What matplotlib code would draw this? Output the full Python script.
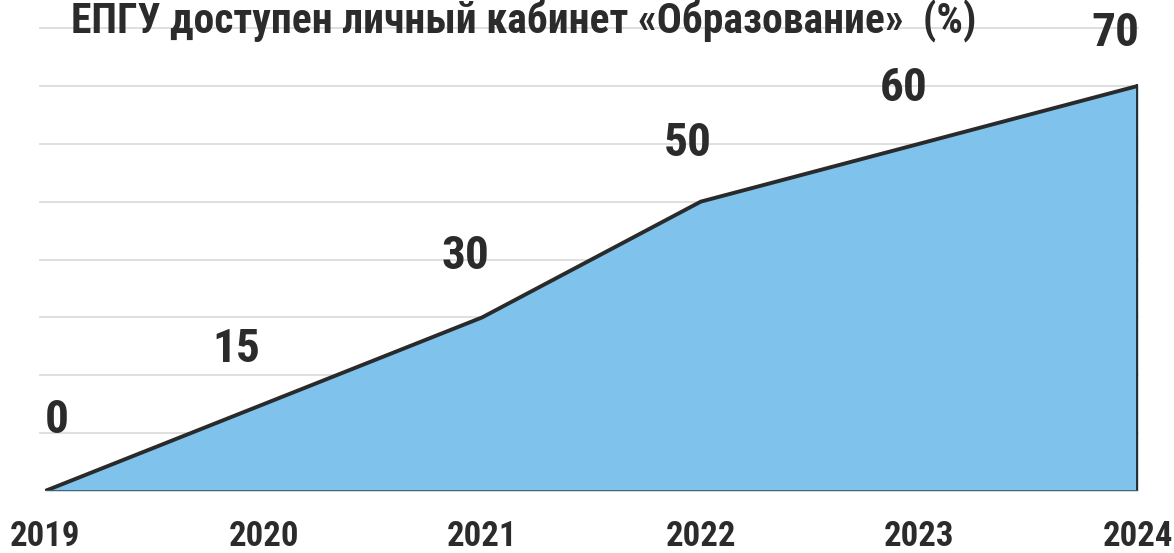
import matplotlib
matplotlib.use("Agg")
import matplotlib.pyplot as plt

years = [2019, 2020, 2021, 2022, 2023, 2024]
values = [0, 15, 30, 50, 60, 70]
year_labels = ["2019", "2020", "2021", "2022", "2023", "2024"]
value_labels = ["0", "15", "30", "50", "60", "70"]
title = "ЕПГУ доступен личный кабинет «Образование»  (%)"

FONT = ["Roboto Condensed", "DejaVu Sans"]
TXT = "#2b2b2b"

W, H = 1174, 553
fig = plt.figure(figsize=(W / 100, H / 100), dpi=100)
x0, x1 = 45, 1138
y0, y1 = 491, 28
ax = fig.add_axes([x0 / W, (H - y0) / H, (x1 - x0) / W, (y0 - y1) / H])
ax.set_xlim(2019, 2024)
ax.set_ylim(0, 80)
for s in ax.spines.values():
    s.set_visible(False)
ax.set_xticks([])
ax.set_yticks([])
ax.patch.set_alpha(0)

for g in range(10, 90, 10):
    ax.axhline(g, color="#dcdcdc", lw=1.3, zorder=1, xmin=-0.005, clip_on=False)

ax.fill_between(years, values, 0, color="#7fc3ec", zorder=2, lw=0)
ax.plot(years, values, color="#2a2a2a", lw=2.8, zorder=3, solid_joinstyle="round",
        solid_capstyle="round")
ax.plot([years[-1], years[-1]], [0, values[-1]], color="#2a2a2a", lw=2.8, zorder=3)
ax.axhline(0, color="#555555", lw=2, zorder=3)

# label offsets from each data point, in pixels (dx right, dy down)
offsets = [(12, -71), (-27, -55), (-17, -61), (-13, -59), (-16, -56), (-23, -53)]
for x, v, lab, (dx, dy) in zip(years, values, value_labels, offsets):
    ax.annotate(lab, (x, v), xytext=(dx * 0.72, -dy * 0.72), textcoords="offset points",
                ha="center", va="center", fontsize=34, fontweight="bold",
                color=TXT, family=FONT, zorder=5)

for x, lab in zip(years, year_labels):
    ax.annotate(lab, (x, 0), xytext=(0, -46 * 0.72), textcoords="offset points",
                ha="center", va="center", fontsize=25, fontweight="bold",
                color=TXT, family=FONT, annotation_clip=False)

fig.text(524 / W, (H - 21) / H, title, ha="center", va="center", fontsize=30,
         fontweight="bold", color=TXT, family=FONT)

fig.savefig("out.png", dpi=100, facecolor="white")
